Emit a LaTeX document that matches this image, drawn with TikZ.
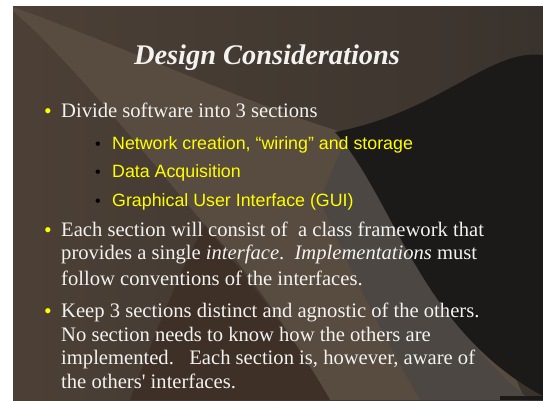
\documentclass[tikz,border=0pt]{standalone}
\usepackage{fontspec}
\setmainfont{Liberation Serif}
\newfontfamily\arialfont{Liberation Sans}
\usepackage{xcolor}
\usepackage{tikz}
\usetikzlibrary{positioning}

\definecolor{slidebrown}{RGB}{76,64,54}
\definecolor{slidetop}{RGB}{58,51,45}
\definecolor{swooshlight}{RGB}{88,76,65}
\definecolor{swooshgrey}{RGB}{76,71,66}
\definecolor{swooshdark}{RGB}{62,48,39}
\definecolor{slideblack}{RGB}{27,26,25}
\definecolor{slidewhite}{RGB}{242,242,240}
\definecolor{slideyellow}{RGB}{255,255,0}

\begin{document}
\begin{tikzpicture}[x=1pt, y=-1pt,
    heading/.style={font=\fontsize{28.4}{32}\selectfont\bfseries\itshape,
      text=slidewhite, anchor=base, inner sep=0pt},
    bodyline/.style={font=\fontsize{20.6}{24}\selectfont, text=slidewhite,
      anchor=base west, inner sep=0pt},
    subline/.style={font=\arialfont\fontsize{17.8}{20}\selectfont,
      text=slideyellow, anchor=base west, inner sep=0pt},
    mainbullet/.style={font=\arialfont\fontsize{19}{20}\selectfont,
      text=slideyellow, anchor=base, inner sep=0pt},
    subbullet/.style={font=\arialfont\fontsize{16}{18}\selectfont,
      text=black, anchor=base, inner sep=0pt},
  ]
    \useasboundingbox (0,0) rectangle (543,400);
    \fill[white] (0,0) rectangle (543,400);

    % Slide background
    \shade[left color=slidebrown, right color=slidetop] (13,6) rectangle (543,400);
    \fill[swooshlight] (13,7) .. controls (120,45) and (250,105) .. (345,133)
      -- (460,250) -- (525,400) -- (330,400)
      .. controls (290,330) and (240,260) .. (205,225)
      .. controls (150,160) and (70,60) .. (13,11) -- cycle;
    \fill[swooshgrey] (345,140) .. controls (390,210) and (440,330) .. (530,400)
      -- (420,400) .. controls (380,330) and (345,260) .. (320,200) -- cycle;
    \fill[swooshdark] (130,400) .. controls (160,320) and (185,260) .. (205,225)
      .. controls (240,270) and (290,330) .. (330,400) -- cycle;
    \fill[slideblack] (543,55) .. controls (490,48) and (440,112) .. (335,132)
      .. controls (395,200) and (420,330) .. (543,396) -- cycle;
    \fill[slideblack] (500,396) rectangle (543,400);

    % Title
    \node[heading] (title) at (267,64) {Design Considerations};

    % First bullet with sub-items
    \node[mainbullet] (b1) at (48,117) {\textbullet};
    \node[bodyline] (divide) at (61,117) {Divide software into 3 sections};
    \node[subbullet] (s1) at (98,149) {\textbullet};
    \node[subline] (network) at (112,149) {Network creation, “wiring” and storage};
    \node[subbullet] (s2) at (98,177) {\textbullet};
    \node[subline] (daq) at (112,177) {Data Acquisition};
    \node[subbullet] (s3) at (98,206) {\textbullet};
    \node[subline] (gui) at (112,206) {Graphical User Interface (GUI)};

    % Second bullet
    \node[mainbullet] (b2) at (48,236) {\textbullet};
    \node[bodyline] (each) at (61,236) {Each section will consist of\ \ a class framework that};
    \node[bodyline] (provides) at (61,259) {provides a single \textit{interface}.\ \ \textit{Implementations} must};
    \node[bodyline] (follow) at (61,285) {follow conventions of the interfaces.};

    % Third bullet
    \node[mainbullet] (b3) at (48,317) {\textbullet};
    \node[bodyline] (keep) at (61,317) {Keep 3 sections distinct and agnostic of the others.};
    \node[bodyline] (nosection) at (61,341) {No section needs to know how the others are};
    \node[bodyline] (implemented) at (61,364) {implemented.\ \ \ Each section is, however, aware of};
    \node[bodyline] (others) at (61,388) {the others\textquotesingle\ interfaces.};
  \end{tikzpicture}
\end{document}
